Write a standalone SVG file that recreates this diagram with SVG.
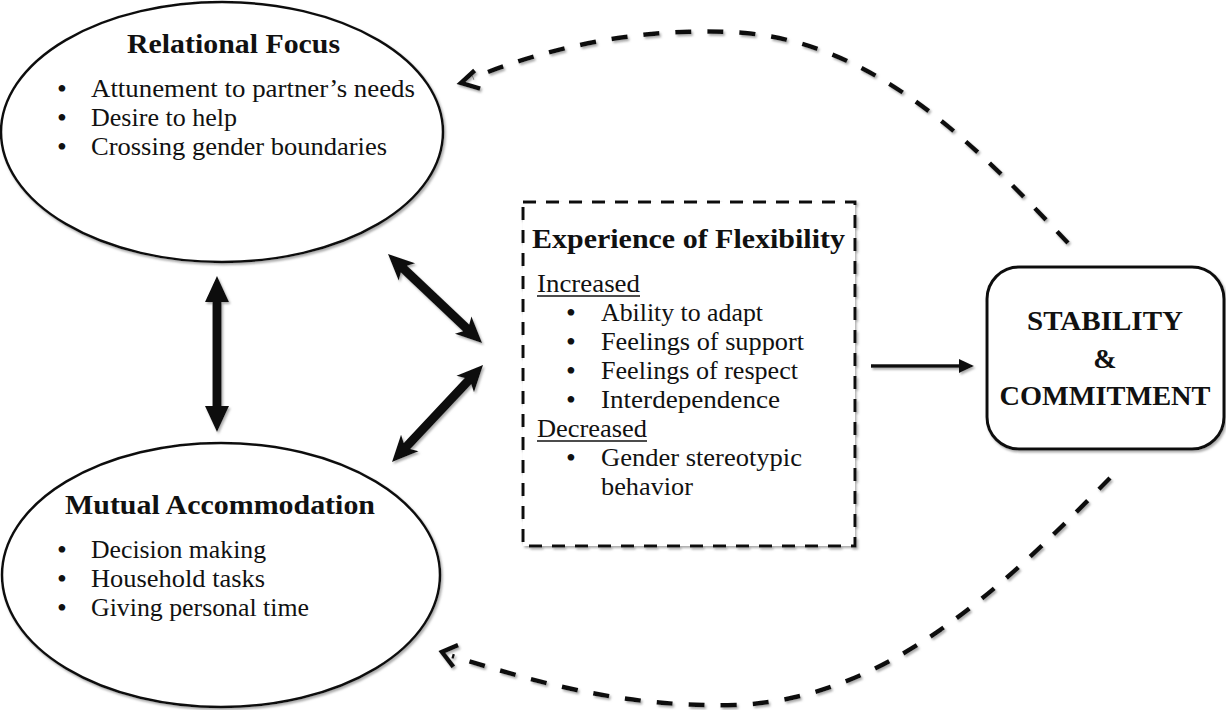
<svg xmlns="http://www.w3.org/2000/svg" width="1226" height="710" viewBox="0 0 1226 710">
<style>
  text { font-family: "Liberation Serif", "Times New Roman", serif; fill: #111; }
  .title { font-size: 27px; font-weight: bold; }
  .body { font-size: 25px; }
  .bul { font-size: 28px; }
  .big { font-size: 28px; font-weight: bold; }
  .shape { fill: #fff; stroke: #111; stroke-width: 2.5; }
  .dash { fill: none; stroke: #111; stroke-width: 4.5; stroke-dasharray: 16 16; }
  .chev { fill: none; stroke: #111; stroke-width: 4.5; stroke-linecap: square; stroke-linejoin: miter; }
  .dbl { fill: #111; }
</style>
<defs>
  <filter id="sh" x="-10%" y="-10%" width="130%" height="130%">
    <feDropShadow dx="1.5" dy="2" stdDeviation="0.8" flood-color="#888" flood-opacity="0.7"/>
  </filter>
</defs>
<rect width="1226" height="710" fill="#fff"/>

<g id="relational-focus">
  <ellipse class="shape" cx="222" cy="132" rx="221" ry="130" filter="url(#sh)"/>
  <text class="title" x="127" y="53" textLength="213" lengthAdjust="spacingAndGlyphs">Relational Focus</text>
  <text class="bul" x="57" y="98">•</text>
  <text class="body" x="91" y="97" textLength="324" lengthAdjust="spacingAndGlyphs">Attunement to partner’s needs</text>
  <text class="bul" x="57" y="127">•</text>
  <text class="body" x="91" y="126" textLength="146" lengthAdjust="spacingAndGlyphs">Desire to help</text>
  <text class="bul" x="57" y="156">•</text>
  <text class="body" x="91" y="155" textLength="296" lengthAdjust="spacingAndGlyphs">Crossing gender boundaries</text>
</g>

<g id="mutual-accommodation">
  <ellipse class="shape" cx="221" cy="575" rx="219" ry="132" filter="url(#sh)"/>
  <text class="title" x="65" y="514" textLength="310" lengthAdjust="spacingAndGlyphs">Mutual Accommodation</text>
  <text class="bul" x="57" y="559">•</text>
  <text class="body" x="91" y="558" textLength="175" lengthAdjust="spacingAndGlyphs">Decision making</text>
  <text class="bul" x="57" y="588">•</text>
  <text class="body" x="91" y="587" textLength="174" lengthAdjust="spacingAndGlyphs">Household tasks</text>
  <text class="bul" x="57" y="617">•</text>
  <text class="body" x="91" y="616" textLength="218" lengthAdjust="spacingAndGlyphs">Giving personal time</text>
</g>

<g id="experience-of-flexibility">
  <rect x="523" y="202" width="332" height="344" fill="#fff" stroke="#111" stroke-width="3" stroke-dasharray="13 10" filter="url(#sh)"/>
  <text class="title" x="532" y="248" textLength="313" lengthAdjust="spacingAndGlyphs">Experience of Flexibility</text>
  <text class="body" x="537" y="292" textLength="103" lengthAdjust="spacingAndGlyphs">Increased</text>
  <line x1="537" y1="296" x2="640" y2="296" stroke="#111" stroke-width="1.3"/>
  <text class="bul" x="566" y="322">•</text>
  <text class="body" x="601" y="321" textLength="162" lengthAdjust="spacingAndGlyphs">Ability to adapt</text>
  <text class="bul" x="566" y="351">•</text>
  <text class="body" x="601" y="350" textLength="203" lengthAdjust="spacingAndGlyphs">Feelings of support</text>
  <text class="bul" x="566" y="380">•</text>
  <text class="body" x="601" y="379" textLength="197" lengthAdjust="spacingAndGlyphs">Feelings of respect</text>
  <text class="bul" x="566" y="409">•</text>
  <text class="body" x="601" y="408" textLength="179" lengthAdjust="spacingAndGlyphs">Interdependence</text>
  <text class="body" x="537" y="437" textLength="110" lengthAdjust="spacingAndGlyphs">Decreased</text>
  <line x1="537" y1="441" x2="647" y2="441" stroke="#111" stroke-width="1.3"/>
  <text class="bul" x="566" y="467">•</text>
  <text class="body" x="601" y="466" textLength="201" lengthAdjust="spacingAndGlyphs">Gender stereotypic</text>
  <text class="body" x="601" y="495" textLength="92" lengthAdjust="spacingAndGlyphs">behavior</text>
</g>

<g id="stability-commitment">
  <rect x="987" y="267" width="237" height="182" rx="32" ry="32" fill="#fff" stroke="#111" stroke-width="3" filter="url(#sh)"/>
  <text class="big" x="1105" y="330" text-anchor="middle" textLength="156" lengthAdjust="spacingAndGlyphs">STABILITY</text>
  <text class="big" x="1105" y="368" text-anchor="middle">&amp;</text>
  <text class="big" x="1105" y="405" text-anchor="middle" textLength="211" lengthAdjust="spacingAndGlyphs">COMMITMENT</text>
</g>

<g id="connectors" filter="url(#sh)">
  <polygon class="dbl" transform="translate(217,276) rotate(90)" points="0,0 26,-12 26,-4.5 130,-4.5 130,-12 156,0 130,12 130,4.5 26,4.5 26,12"/>
  <polygon class="dbl" transform="translate(388,254) rotate(43.4)" points="0,0 26,-12 22,-4.5 107.5,-4.5 103.5,-12 129.5,0 103.5,12 107.5,4.5 22,4.5 26,12"/>
  <polygon class="dbl" transform="translate(392,462) rotate(-46.8)" points="0,0 26,-12 22,-4.5 111,-4.5 107,-12 133,0 107,12 111,4.5 22,4.5 26,12"/>
  <line x1="871" y1="366" x2="961" y2="366" stroke="#111" stroke-width="3.5"/>
  <polygon class="dbl" points="974,366 959,359 959,373"/>
  <path class="dash" d="M1068,243 C980,150 880,45 745,33 C640,25 540,50 473,78"/>
  <path class="chev" d="M473,72 L461,83 L478,88"/>
  <path class="dash" d="M1110,478 C1010,580 890,700 735,705 C620,708 530,680 452,656"/>
  <path class="chev" d="M456,646 L442,652 L452,665"/>
</g>
</svg>
